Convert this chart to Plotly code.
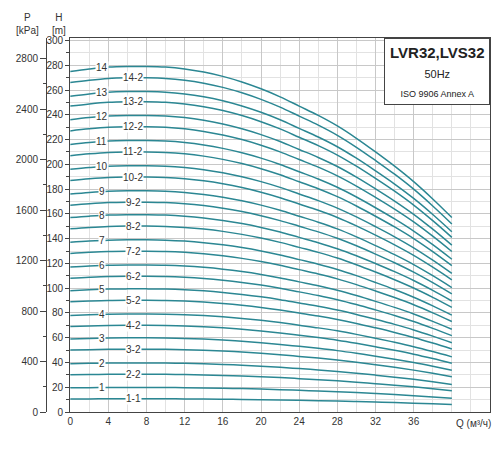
import numpy as np
import plotly.graph_objects as go

# flow points (m3/h) and head read from the top (14-stage) curve
q = [0, 2, 4, 6, 8, 10, 12, 14, 16, 18, 20, 22, 24, 26, 28, 30, 32, 34, 36, 38, 40]
h14 = [275, 277, 278.5, 279, 279, 278.5, 277, 274.5, 271, 266.5, 261, 254.5, 247, 239.5, 231,
       221, 210, 198.5, 186, 172, 157]

# curve names and their shut-off heads (m) read at Q = 0
names = ["14", "14-2", "13", "13-2", "12", "12-2", "11", "11-2", "10", "10-2",
         "9", "9-2", "8", "8-2", "7", "7-2", "6", "6-2", "5", "5-2",
         "4", "4-2", "3", "3-2", "2", "2-2", "1", "1-1"]
h0 = [275, 266, 255, 247, 236, 227, 216, 207, 196, 187,
      176, 167, 157, 148, 137, 128, 117, 108, 98, 89,
      78, 69, 59, 50, 39, 30, 19.5, 10.5]

# label positions along Q
lab_q_main = 3.3
lab_q_sub = 6.6

LINE = "#2b8793"
GRID = "#c8c8c8"

shape = np.array(h14) / h14[0]
fig = go.Figure()
for name, start in zip(names, h0):
    fig.add_trace(go.Scatter(x=q, y=start * shape, mode="lines", line=dict(color=LINE, width=1.5, shape="spline"),
                             showlegend=False, hoverinfo="skip"))
    lq = lab_q_sub if "-" in name else lab_q_main
    ly = start * np.interp(lq, q, shape)
    fig.add_annotation(x=lq, y=ly, text=name, showarrow=False, bgcolor="white",
                       font=dict(size=10, color="#333"), borderpad=0)

# kPa axis carried on yaxis2
fig.add_trace(go.Scatter(x=[None], y=[None], yaxis="y2", showlegend=False))

fig.update_layout(
    width=500, height=450, plot_bgcolor="white", paper_bgcolor="white",
    margin=dict(l=0, r=18, t=30, b=46, autoexpand=False),
    font=dict(family="Liberation Sans, Arial", size=10, color="#333"),
    xaxis=dict(domain=[0.129, 1], range=[0, 44], tickvals=list(range(0, 40, 4)), automargin=False,
               showgrid=True, gridcolor=GRID, showline=True, linecolor="#444", mirror=True,
               zeroline=False, ticks="", minor=dict(dtick=2, showgrid=True, gridcolor="#e2e2e2")),
    yaxis=dict(range=[0, 302], dtick=20, showgrid=True, gridcolor=GRID, showline=True, linecolor="#444",
               mirror=True, zeroline=False, ticks="outside", ticklen=4, automargin=False,
               minor=dict(dtick=10, showgrid=True, gridcolor="#e2e2e2", ticks="outside", ticklen=3)),
    yaxis2=dict(overlaying="y", anchor="free", position=0.079, side="left", automargin=False,
                range=[0, 302 * 9.81], dtick=400, showgrid=False, showline=True, linecolor="#444",
                ticks="outside", ticklen=6, zeroline=False,
                minor=dict(dtick=200, ticks="outside", ticklen=3)),
)

fig.add_annotation(x=0.129, y=1.0, xref="paper", yref="paper", text="H<br>[m]", showarrow=False,
                   xanchor="right", yanchor="bottom", font=dict(size=10), xshift=-2)
fig.add_annotation(x=0.04, y=1.0, xref="paper", yref="paper", text="P<br>[kPa]", showarrow=False,
                   xanchor="center", yanchor="bottom", font=dict(size=10))
fig.add_annotation(x=42.3, y=0, text="Q (м³/ч)", showarrow=False, yanchor="top", yshift=-4,
                   font=dict(size=10))
fig.add_annotation(x=1, y=1, xref="paper", yref="paper", xanchor="right", yanchor="top",
                   text="<b>LVR32,LVS32</b><br><span style='font-size:11px'>50Hz</span><br>"
                        "<span style='font-size:9px'>ISO 9906 Annex A</span>",
                   showarrow=False, font=dict(size=15, color="#222"), bgcolor="white",
                   bordercolor="#444", borderwidth=1, borderpad=5)

fig.write_html("out.html")
